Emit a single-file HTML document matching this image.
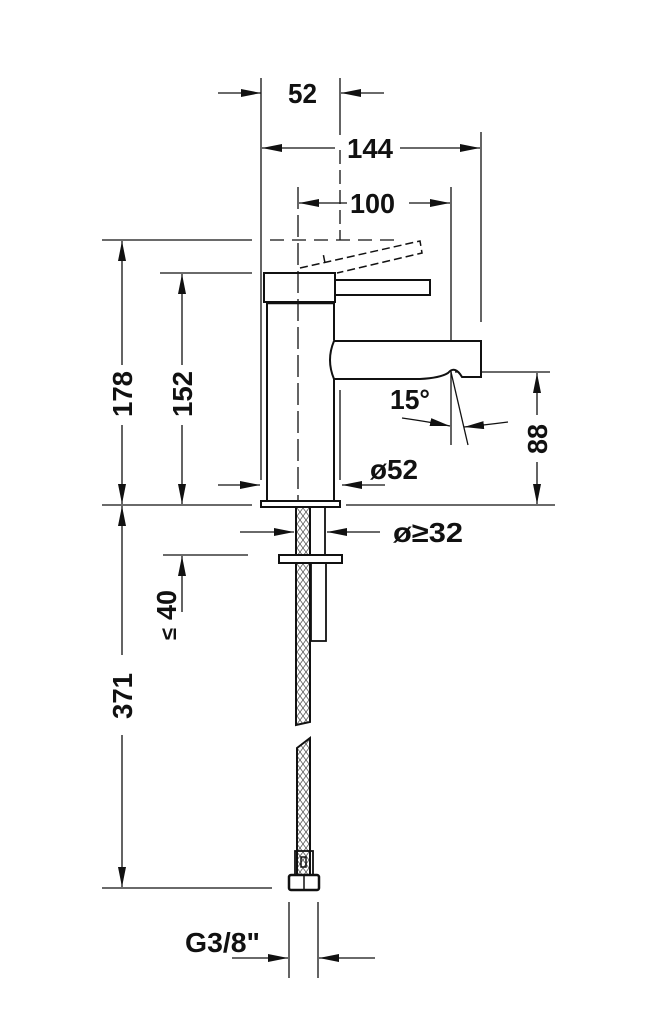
<!DOCTYPE html>
<html><head><style>
html,body{margin:0;padding:0;background:#fff;}
svg{display:block;}
text{font-family:"Liberation Sans",sans-serif;font-weight:bold;fill:#111;}
</style></head><body>
<svg width="653" height="1024" viewBox="0 0 653 1024" xmlns="http://www.w3.org/2000/svg">
<defs>
<marker id="a" viewBox="0 0 10 4" refX="10" refY="2" markerWidth="20" markerHeight="8" markerUnits="userSpaceOnUse" orient="auto"><path d="M0,0 L10,2 L0,4 z" fill="#111"/></marker>
<pattern id="h" width="6" height="8" patternUnits="userSpaceOnUse"><path d="M0,0 L6,8 M6,0 L0,8" stroke="#555" stroke-width="0.8"/></pattern>
</defs>
<g stroke="#111" stroke-width="1.3" fill="none">
<line x1="261" y1="78" x2="261" y2="480"/>
<line x1="340" y1="78" x2="340" y2="135"/>
<line x1="340" y1="150" x2="340" y2="240" stroke-dasharray="14,6"/>
<line x1="481" y1="132" x2="481" y2="322"/>
<line x1="451" y1="187" x2="451" y2="445"/>
<line x1="298" y1="187" x2="298" y2="500" stroke-dasharray="22,6"/>
<line x1="102" y1="240" x2="252" y2="240"/>
<line x1="270" y1="240" x2="400" y2="240" stroke-dasharray="14,8"/>
<line x1="160" y1="273" x2="252" y2="273"/>
<line x1="102" y1="505" x2="252" y2="505"/>
<line x1="346" y1="505" x2="555" y2="505"/>
<line x1="455" y1="372" x2="550" y2="372"/>
<line x1="340" y1="390" x2="340" y2="480"/>
<line x1="218" y1="93" x2="261" y2="93" marker-end="url(#a)"/>
<line x1="384" y1="93" x2="341" y2="93" marker-end="url(#a)"/>
<line x1="335" y1="148" x2="262" y2="148" marker-end="url(#a)"/>
<line x1="400" y1="148" x2="480" y2="148" marker-end="url(#a)"/>
<line x1="347" y1="203" x2="299" y2="203" marker-end="url(#a)"/>
<line x1="409" y1="203" x2="450" y2="203" marker-end="url(#a)"/>
<line x1="122" y1="365" x2="122" y2="241" marker-end="url(#a)"/>
<line x1="122" y1="425" x2="122" y2="504" marker-end="url(#a)"/>
<line x1="182" y1="365" x2="182" y2="274" marker-end="url(#a)"/>
<line x1="182" y1="425" x2="182" y2="504" marker-end="url(#a)"/>
<line x1="537" y1="415" x2="537" y2="373" marker-end="url(#a)"/>
<line x1="537" y1="462" x2="537" y2="504" marker-end="url(#a)"/>
<line x1="218" y1="485" x2="260" y2="485" marker-end="url(#a)"/>
<line x1="385" y1="485" x2="342" y2="485" marker-end="url(#a)"/>
<path d="M402,418 Q430,422 450,426" marker-end="url(#a)"/>
<path d="M508,422 Q485,425 464,427" marker-end="url(#a)"/>
<line x1="451" y1="372" x2="468" y2="445"/>
<rect x="264" y="273" width="71" height="29" stroke-width="2"/>
<line x1="266" y1="303" x2="335" y2="303" stroke-width="2.5"/>
<line x1="267" y1="304" x2="267" y2="501" stroke-width="2"/>
<line x1="334" y1="304" x2="334" y2="340" stroke-width="2"/>
<line x1="334" y1="378" x2="334" y2="501" stroke-width="2"/>
<rect x="261" y="501" width="79" height="6" stroke-width="2"/>
<path d="M335,280 H430 V295 H335" stroke-width="2"/>
<path d="M300,268 L420,241 L422,253 L337,273 M325,263 L323,253" stroke-dasharray="8,4" stroke-width="1.5"/>
<path d="M334,341 H481 V377 H462 Q455,365 448,373 Q440,378 420,379 H334 Q326,360 334,341 Z" stroke-width="2" fill="#fff"/>
<rect x="296" y="507" width="14" height="48" fill="url(#h)" stroke-width="2"/>
<rect x="310" y="507" width="15" height="48" stroke-width="1.8"/>
<line x1="240" y1="532" x2="294" y2="532" marker-end="url(#a)"/>
<line x1="380" y1="532" x2="327" y2="532" marker-end="url(#a)"/>
<rect x="279" y="555" width="63" height="8" stroke-width="2"/>
<path d="M296,563 H310 V722 L296,725 Z" fill="url(#h)" stroke-width="2"/>
<rect x="311" y="563" width="15" height="78" stroke-width="1.8"/>
<path d="M297,748 L310,738 V875 H297 Z" fill="url(#h)" stroke-width="2"/>
<rect x="295" y="851" width="18" height="24" stroke-width="1.8"/>
<rect x="301" y="857" width="5" height="10" stroke-width="1.5"/>
<rect x="289" y="875" width="30" height="15" rx="2" stroke-width="2.5"/>
<line x1="304" y1="876" x2="304" y2="889" stroke-width="1.5"/>
<line x1="163" y1="555" x2="248" y2="555"/>
<line x1="182" y1="612" x2="182" y2="556" marker-end="url(#a)"/>
<line x1="122" y1="655" x2="122" y2="506" marker-end="url(#a)"/>
<line x1="122" y1="735" x2="122" y2="887" marker-end="url(#a)"/>
<line x1="102" y1="888" x2="272" y2="888"/>
<line x1="289" y1="902" x2="289" y2="978"/>
<line x1="318" y1="902" x2="318" y2="978"/>
<line x1="232" y1="958" x2="288" y2="958" marker-end="url(#a)"/>
<line x1="375" y1="958" x2="319" y2="958" marker-end="url(#a)"/>
</g>
<g font-size="28" lengthAdjust="spacingAndGlyphs">
<text x="288" y="103" textLength="29" lengthAdjust="spacingAndGlyphs">52</text>
<text x="347" y="158" textLength="46" lengthAdjust="spacingAndGlyphs">144</text>
<text x="350" y="213" textLength="45" lengthAdjust="spacingAndGlyphs">100</text>
<text x="390" y="409" textLength="40" lengthAdjust="spacingAndGlyphs">15°</text>
<text x="370" y="479" textLength="48" lengthAdjust="spacingAndGlyphs">ø52</text>
<text x="393" y="542" textLength="70" lengthAdjust="spacingAndGlyphs">ø≥32</text>
<text x="185" y="952" textLength="75" lengthAdjust="spacingAndGlyphs">G3/8"</text>
<text transform="translate(132,417) rotate(-90)" textLength="46" lengthAdjust="spacingAndGlyphs">178</text>
<text transform="translate(192,417) rotate(-90)" textLength="46" lengthAdjust="spacingAndGlyphs">152</text>
<text transform="translate(547,454) rotate(-90)" textLength="30" lengthAdjust="spacingAndGlyphs">88</text>
<text transform="translate(132,719) rotate(-90)" textLength="46" lengthAdjust="spacingAndGlyphs">371</text>
<text transform="translate(176,620) rotate(-90)" textLength="30" lengthAdjust="spacingAndGlyphs">40</text>
<text transform="translate(176,640) rotate(-90)" font-weight="normal" font-size="22">≤</text>
</g>
</svg>
</body></html>
